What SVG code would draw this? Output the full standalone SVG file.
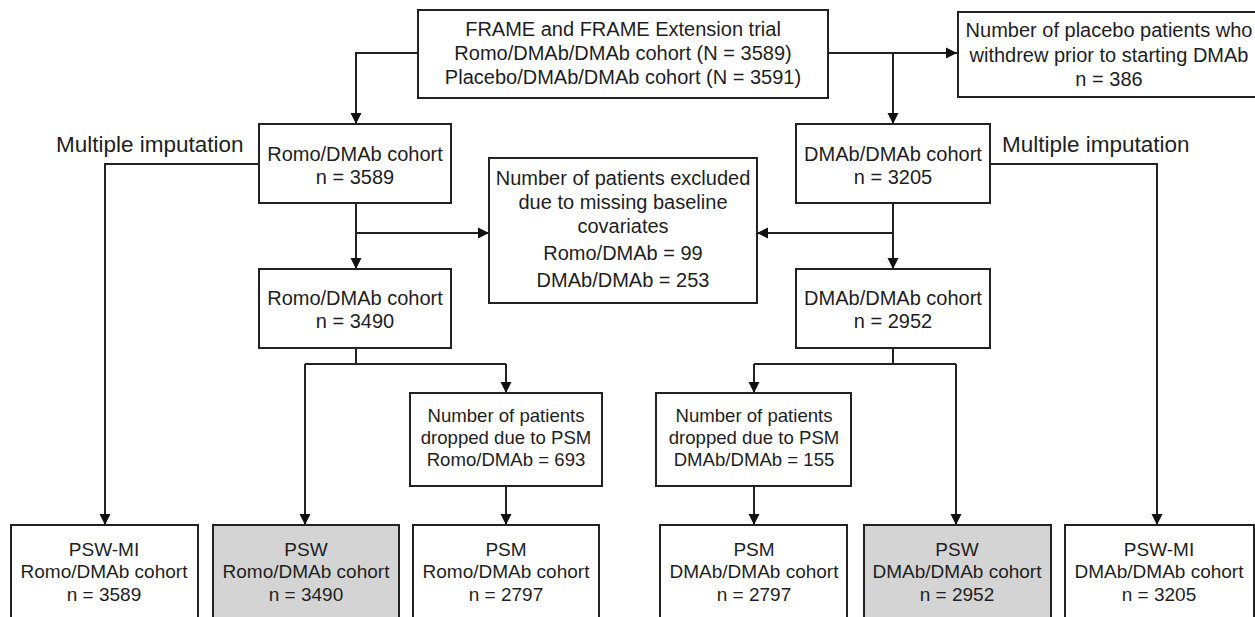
<svg xmlns="http://www.w3.org/2000/svg" width="1255" height="617" viewBox="0 0 1255 617">
<style>
.box{fill:#fff;stroke:#222;stroke-width:2}
.gray{fill:#d4d4d4;stroke:#222;stroke-width:2}
.t{font-family:"Liberation Sans",Arial,sans-serif;font-size:20px;fill:#1e1e1e;text-anchor:middle}
.s{font-size:18.6px}
.b{font-size:19px}
.lbl{font-family:"Liberation Sans",Arial,sans-serif;font-size:22.5px;fill:#1e1e1e}
.c{fill:none;stroke:#222;stroke-width:2}
</style>
<defs>
<marker id="ah" markerUnits="userSpaceOnUse" markerWidth="12" markerHeight="12" refX="11" refY="6" orient="auto">
<path d="M0,0.5 L11,6 L0,11.5 z" fill="#111"/>
</marker>
</defs>
<rect width="1255" height="617" fill="#fff"/>
<g id="connectors">
<path class="c" d="M418,53 H356 V124" marker-end="url(#ah)"/>
<path class="c" d="M828,53 H957" marker-end="url(#ah)"/>
<path class="c" d="M893,53 V124" marker-end="url(#ah)"/>
<path class="c" d="M356,203 V269" marker-end="url(#ah)"/>
<path class="c" d="M356,233 H489" marker-end="url(#ah)"/>
<path class="c" d="M893,203 V269" marker-end="url(#ah)"/>
<path class="c" d="M893,233 H757" marker-end="url(#ah)"/>
<path class="c" d="M259,164 H105 V525" marker-end="url(#ah)"/>
<path class="c" d="M990,164 H1157 V525" marker-end="url(#ah)"/>
<path class="c" d="M356,348 V364 M305,364 H506"/>
<path class="c" d="M305,364 V525" marker-end="url(#ah)"/>
<path class="c" d="M506,364 V393" marker-end="url(#ah)"/>
<path class="c" d="M506,486 V525" marker-end="url(#ah)"/>
<path class="c" d="M893,348 V364 M754,364 H956"/>
<path class="c" d="M754,364 V393" marker-end="url(#ah)"/>
<path class="c" d="M956,364 V525" marker-end="url(#ah)"/>
<path class="c" d="M754,486 V525" marker-end="url(#ah)"/>
</g>
<g id="label-mi-left"><text class="lbl" x="56" y="152">Multiple imputation</text></g>
<g id="label-mi-right"><text class="lbl" x="1002" y="152">Multiple imputation</text></g>
<g id="n-frame">
<rect class="box" x="418" y="10" width="410" height="88"/>
<text class="t" x="623" y="36">FRAME and FRAME Extension trial</text>
<text class="t" x="623" y="60">Romo/DMAb/DMAb cohort (N = 3589)</text>
<text class="t" x="623" y="84">Placebo/DMAb/DMAb cohort (N = 3591)</text>
</g>
<g id="n-withdrew">
<rect class="box" x="958" y="12" width="310" height="85"/>
<text class="t" x="1109" y="37">Number of placebo patients who</text>
<text class="t" x="1109" y="62">withdrew prior to starting DMAb</text>
<text class="t" x="1109" y="86">n = 386</text>
</g>
<g id="n-romo1">
<rect class="box" x="259" y="124" width="192" height="79"/>
<text class="t" x="355" y="161">Romo/DMAb cohort</text>
<text class="t" x="355" y="184">n = 3589</text>
</g>
<g id="n-dmab1">
<rect class="box" x="796" y="124" width="194" height="79"/>
<text class="t" x="893" y="161">DMAb/DMAb cohort</text>
<text class="t" x="893" y="184">n = 3205</text>
</g>
<g id="n-excluded">
<rect class="box" x="489" y="158" width="268" height="145"/>
<text class="t" x="623" y="185">Number of patients excluded</text>
<text class="t" x="623" y="209">due to missing baseline</text>
<text class="t" x="623" y="233">covariates</text>
<text class="t" x="623" y="260">Romo/DMAb = 99</text>
<text class="t" x="623" y="287">DMAb/DMAb = 253</text>
</g>
<g id="n-romo2">
<rect class="box" x="259" y="269" width="192" height="79"/>
<text class="t" x="355" y="305">Romo/DMAb cohort</text>
<text class="t" x="355" y="328">n = 3490</text>
</g>
<g id="n-dmab2">
<rect class="box" x="796" y="269" width="194" height="79"/>
<text class="t" x="893" y="305">DMAb/DMAb cohort</text>
<text class="t" x="893" y="328">n = 2952</text>
</g>
<g id="n-drop-romo">
<rect class="box" x="410" y="393" width="192" height="93"/>
<text class="t s" x="506" y="422">Number of patients</text>
<text class="t s" x="506" y="444">dropped due to PSM</text>
<text class="t s" x="506" y="466">Romo/DMAb = 693</text>
</g>
<g id="n-drop-dmab">
<rect class="box" x="656" y="393" width="195" height="93"/>
<text class="t s" x="754" y="422">Number of patients</text>
<text class="t s" x="754" y="444">dropped due to PSM</text>
<text class="t s" x="754" y="466">DMAb/DMAb = 155</text>
</g>
<g id="n-pswmi-romo">
<rect class="box" x="11" y="525" width="187" height="100"/>
<text class="t b" x="104" y="556">PSW-MI</text>
<text class="t b" x="104" y="578">Romo/DMAb cohort</text>
<text class="t b" x="104" y="601">n = 3589</text>
</g>
<g id="n-psw-romo">
<rect class="gray" x="213" y="525" width="186" height="100"/>
<text class="t b" x="306" y="556">PSW</text>
<text class="t b" x="306" y="578">Romo/DMAb cohort</text>
<text class="t b" x="306" y="601">n = 3490</text>
</g>
<g id="n-psm-romo">
<rect class="box" x="413" y="525" width="186" height="100"/>
<text class="t b" x="506" y="556">PSM</text>
<text class="t b" x="506" y="578">Romo/DMAb cohort</text>
<text class="t b" x="506" y="601">n = 2797</text>
</g>
<g id="n-psm-dmab">
<rect class="box" x="660" y="525" width="187" height="100"/>
<text class="t b" x="754" y="556">PSM</text>
<text class="t b" x="754" y="578">DMAb/DMAb cohort</text>
<text class="t b" x="754" y="601">n = 2797</text>
</g>
<g id="n-psw-dmab">
<rect class="gray" x="864" y="525" width="187" height="100"/>
<text class="t b" x="957" y="556">PSW</text>
<text class="t b" x="957" y="578">DMAb/DMAb cohort</text>
<text class="t b" x="957" y="601">n = 2952</text>
</g>
<g id="n-pswmi-dmab">
<rect class="box" x="1065" y="525" width="189" height="100"/>
<text class="t b" x="1159" y="556">PSW-MI</text>
<text class="t b" x="1159" y="578">DMAb/DMAb cohort</text>
<text class="t b" x="1159" y="601">n = 3205</text>
</g>
</svg>
